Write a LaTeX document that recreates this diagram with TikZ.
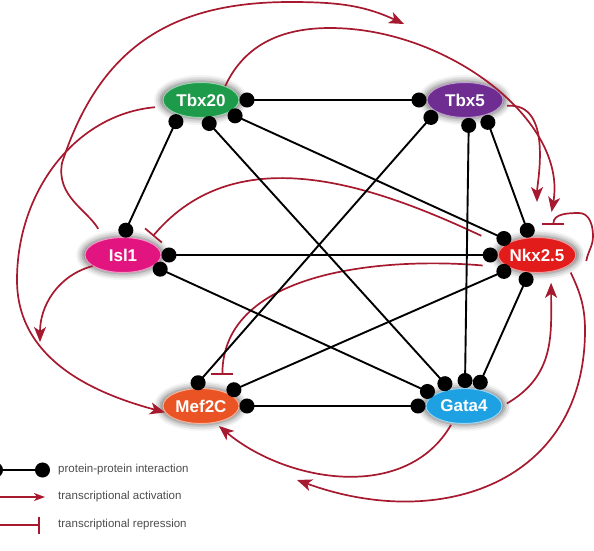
\documentclass[tikz,border=0pt]{standalone}
\usepackage{fontspec}
\setsansfont{Liberation Sans}
\usepackage{tikz}
\usetikzlibrary{arrows.meta,positioning,shapes.geometric,shadows.blur}

\definecolor{tbxgreen}{RGB}{30,154,75}
\definecolor{tbxpurple}{RGB}{111,45,145}
\definecolor{islpink}{RGB}{226,20,127}
\definecolor{nkxred}{RGB}{226,27,27}
\definecolor{meforange}{RGB}{234,84,36}
\definecolor{gatablue}{RGB}{29,161,226}
\definecolor{regred}{RGB}{166,25,46}

\begin{document}
\begin{tikzpicture}[x=1pt, y=1pt,
    gene/.style={ellipse, fill=#1, draw=white!55!#1, line width=1pt, text=white,
      font=\sffamily\bfseries\fontsize{17}{17}\selectfont, inner sep=0pt,
      minimum width=76pt, minimum height=35pt,
      blur shadow={shadow xshift=0pt, shadow yshift=0pt, shadow scale=1.07,
        shadow blur radius=6pt, shadow opacity=60}},
    ppi/.style={{Circle[length=15pt]}-{Circle[length=15pt]}, line width=1.9pt},
    act/.style={-{Stealth[length=15pt, width=12pt, inset=4pt]}, draw=regred, line width=1.7pt},
    rep/.style={-{Bar[width=22pt, line width=1.7pt]}, draw=regred, line width=1.7pt},
    legend/.style={font=\sffamily\fontsize{11.5}{11.5}\selectfont, text=black!70,
      anchor=west, inner sep=0pt}]

    \useasboundingbox (0,0) rectangle (594,-550);

    % Define genes
    \node[gene=tbxgreen] (Tbx20) at (201,-100) {Tbx20};
    \node[gene=tbxpurple] (Tbx5) at (465,-100) {Tbx5};
    \node[gene=islpink] (Isl1) at (123,-255) {Isl1};
    \node[gene=nkxred] (Nkx) at (537,-255) {Nkx2.5};
    \node[gene=meforange] (Mef2C) at (201,-406) {Mef2C};
    \node[gene=gatablue] (Gata4) at (464,-406) {Gata4};

    % Free ends
    \coordinate (topend) at (404,-24);
    \coordinate (islend) at (40,-342);
    \coordinate (nkxend) at (297,-480);

    % Draw regulation
    \draw[act, shorten <=12pt] (Isl1.140) to[out=120,in=-100] (62,-163)
        to[out=72,in=180,looseness=1.1] (290,-2) to[out=0,in=155] (topend);
    \draw[act, shorten >=26pt] (Tbx20.30) to[out=65,in=180] (330,-28)
        to[out=0,in=80] (Nkx.60);
    \draw[act, shorten <=6pt, shorten >=35pt] (Tbx5.-10) to[out=5,in=90] (Nkx.90);
    \draw[rep] ([shift={(10pt,-6pt)}]Nkx.east) to[out=80,in=-90] (593,-236)
        to[out=90,in=0] (579,-213) to[out=180,in=90] ([yshift=14pt]Nkx.45);
    \draw[rep, shorten <=24pt, shorten >=7pt] (Nkx.165) to[out=155,in=50] (Isl1.28);
    \draw[rep, shorten <=27pt, shorten >=16pt] (Nkx.205) to[out=175,in=90] (Mef2C.35);
    \draw[act, shorten <=5pt, shorten >=11pt] (Gata4.0) to[out=30,in=-90,looseness=1.1] (Nkx.-50);
    \draw[act, shorten <=2pt, shorten >=5pt] (Gata4.235) to[out=-120,in=-40] (Mef2C.-50);
    \draw[act, shorten <=7pt] (Nkx.-20) to[out=-65,in=90] (585,-330)
        to[out=-90,in=-20,looseness=1.2] (nkxend);
    \draw[act, shorten <=10pt] (Tbx20.190) to[out=185,in=90] (17,-280)
        to[out=-90,in=165] (Mef2C.190);
    \draw[act] (Isl1.200) to[out=195,in=90] (islend);

    % Draw interactions
    \path[ppi] (Tbx20.0) edge (Tbx5.180)
               (Tbx20.214) edge (Isl1.91)
               (Tbx20.280) edge (Gata4.130)
               (Tbx20.335) edge (Nkx.153)
          (Tbx5.202) edge (Mef2C.114)
               (Tbx5.282) edge (Gata4.87)
               (Tbx5.323) edge (Nkx.112)
          (Isl1.0) edge (Nkx.180)
               (Isl1.340) edge (Gata4.159)
          (Mef2C.27) edge (Nkx.207)
               (Mef2C.0) edge (Gata4.180)
          (Gata4.52) edge (Nkx.246);

    % Legend
    \coordinate (ppia) at (-12,-470);
    \coordinate (ppib) at (50,-470);
    \coordinate (acta) at (0,-497);
    \coordinate (actb) at (45,-497);
    \coordinate (repa) at (0,-525);
    \coordinate (repb) at (40,-525);
    \draw[ppi] (ppia) -- (ppib);
    \draw[act, -{Stealth[length=11pt, width=8pt, inset=3pt]}] (acta) -- (actb);
    \draw[rep, -{Bar[width=17pt, line width=1.7pt]}] (repa) -- (repb);
    \node[legend] (lppi) at (58,-470) {protein-protein interaction};
    \node[legend] (lact) at (58,-497) {transcriptional activation};
    \node[legend] (lrep) at (58,-525) {transcriptional repression};
\end{tikzpicture}
\end{document}
